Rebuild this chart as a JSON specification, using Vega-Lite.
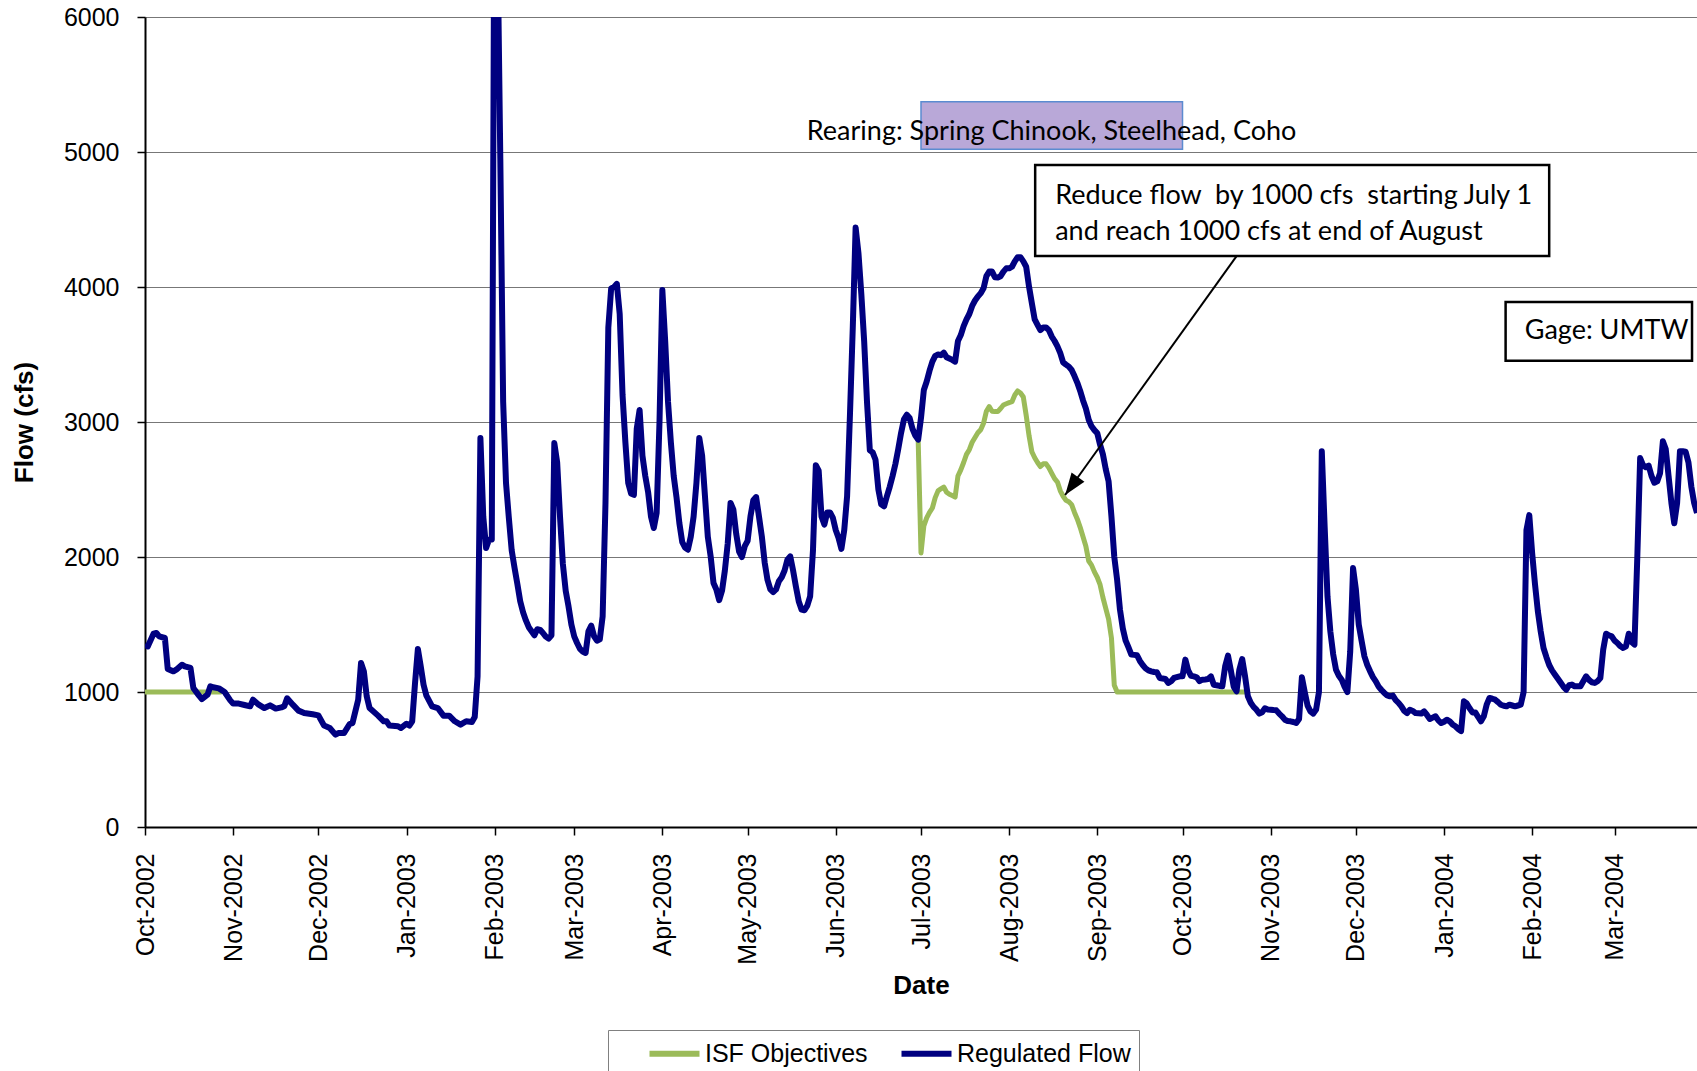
{
  "$schema": "https://vega.github.io/schema/vega-lite/v6.json",
  "width": 1552,
  "height": 810,
  "autosize": {"type": "none"},
  "padding": {"left": 145, "top": 17, "right": 0, "bottom": 244},
  "background": "white",
  "config": {"view": {"stroke": null}, "font": "Liberation Sans"},
  "datasets": {
    "regulated": [
      {"date":"2002-10-01","flow":1351},{"date":"2002-10-02","flow":1338},{"date":"2002-10-04","flow":1432},{"date":"2002-10-05","flow":1437},{"date":"2002-10-06","flow":1412},{"date":"2002-10-08","flow":1400},{"date":"2002-10-09","flow":1170},{"date":"2002-10-11","flow":1153},{"date":"2002-10-12","flow":1165},{"date":"2002-10-14","flow":1202},{"date":"2002-10-15","flow":1190},{"date":"2002-10-17","flow":1178},{"date":"2002-10-18","flow":1030},{"date":"2002-10-20","flow":973},{"date":"2002-10-21","flow":948},{"date":"2002-10-23","flow":980},{"date":"2002-10-24","flow":1042},{"date":"2002-10-25","flow":1035},{"date":"2002-10-27","flow":1027},{"date":"2002-10-29","flow":1000},{"date":"2002-10-31","flow":938},
      {"date":"2002-11-01","flow":914},{"date":"2002-11-03","flow":914},{"date":"2002-11-05","flow":904},{"date":"2002-11-07","flow":894},{"date":"2002-11-08","flow":943},{"date":"2002-11-10","flow":906},{"date":"2002-11-12","flow":881},{"date":"2002-11-14","flow":901},{"date":"2002-11-16","flow":877},{"date":"2002-11-18","flow":886},{"date":"2002-11-19","flow":894},{"date":"2002-11-20","flow":953},{"date":"2002-11-22","flow":906},{"date":"2002-11-24","flow":862},{"date":"2002-11-26","flow":844},{"date":"2002-11-29","flow":835},
      {"date":"2002-12-01","flow":827},{"date":"2002-12-03","flow":751},{"date":"2002-12-05","flow":733},{"date":"2002-12-07","flow":684},{"date":"2002-12-08","flow":696},{"date":"2002-12-10","flow":696},{"date":"2002-12-12","flow":763},{"date":"2002-12-13","flow":770},{"date":"2002-12-15","flow":943},{"date":"2002-12-16","flow":1215},{"date":"2002-12-17","flow":1153},{"date":"2002-12-18","flow":968},{"date":"2002-12-19","flow":881},{"date":"2002-12-22","flow":825},{"date":"2002-12-24","flow":783},{"date":"2002-12-25","flow":783},{"date":"2002-12-26","flow":751},{"date":"2002-12-29","flow":746},{"date":"2002-12-30","flow":733},
      {"date":"2003-01-01","flow":765},{"date":"2003-01-02","flow":751},{"date":"2003-01-03","flow":783},{"date":"2003-01-04","flow":1067},{"date":"2003-01-05","flow":1319},{"date":"2003-01-06","flow":1190},{"date":"2003-01-07","flow":1054},{"date":"2003-01-08","flow":973},{"date":"2003-01-10","flow":894},{"date":"2003-01-12","flow":881},{"date":"2003-01-14","flow":825},{"date":"2003-01-16","flow":825},{"date":"2003-01-18","flow":783},{"date":"2003-01-20","flow":758},{"date":"2003-01-22","flow":783},{"date":"2003-01-24","flow":778},{"date":"2003-01-25","flow":815},{"date":"2003-01-26","flow":1116},{"date":"2003-01-27","flow":2881},{"date":"2003-01-28","flow":2300},{"date":"2003-01-29","flow":2067},{"date":"2003-01-30","flow":2128},{"date":"2003-01-31","flow":2130},
      {"date":"2003-02-01","flow":7500},{"date":"2003-02-02","flow":6600},{"date":"2003-02-03","flow":4950},{"date":"2003-02-04","flow":3150},{"date":"2003-02-05","flow":2550},{"date":"2003-02-06","flow":2290},{"date":"2003-02-07","flow":2050},{"date":"2003-02-08","flow":1920},{"date":"2003-02-09","flow":1800},{"date":"2003-02-10","flow":1672},{"date":"2003-02-11","flow":1590},{"date":"2003-02-12","flow":1530},{"date":"2003-02-13","flow":1480},{"date":"2003-02-14","flow":1450},{"date":"2003-02-15","flow":1420},{"date":"2003-02-16","flow":1465},{"date":"2003-02-17","flow":1460},{"date":"2003-02-18","flow":1437},{"date":"2003-02-19","flow":1410},{"date":"2003-02-20","flow":1395},{"date":"2003-02-21","flow":1420},{"date":"2003-02-22","flow":2844},{"date":"2003-02-23","flow":2700},{"date":"2003-02-24","flow":2300},{"date":"2003-02-25","flow":1950},{"date":"2003-02-26","flow":1750},{"date":"2003-02-27","flow":1634},{"date":"2003-02-28","flow":1500},
      {"date":"2003-03-01","flow":1412},{"date":"2003-03-02","flow":1363},{"date":"2003-03-03","flow":1320},{"date":"2003-03-04","flow":1300},{"date":"2003-03-05","flow":1289},{"date":"2003-03-06","flow":1449},{"date":"2003-03-07","flow":1491},{"date":"2003-03-08","flow":1412},{"date":"2003-03-09","flow":1380},{"date":"2003-03-10","flow":1390},{"date":"2003-03-11","flow":1560},{"date":"2003-03-12","flow":2400},{"date":"2003-03-13","flow":3700},{"date":"2003-03-14","flow":3990},{"date":"2003-03-15","flow":4000},{"date":"2003-03-16","flow":4023},{"date":"2003-03-17","flow":3800},{"date":"2003-03-18","flow":3200},{"date":"2003-03-19","flow":2850},{"date":"2003-03-20","flow":2548},{"date":"2003-03-21","flow":2470},{"date":"2003-03-22","flow":2460},{"date":"2003-03-23","flow":2950},{"date":"2003-03-24","flow":3089},{"date":"2003-03-25","flow":2750},{"date":"2003-03-26","flow":2600},{"date":"2003-03-27","flow":2480},{"date":"2003-03-28","flow":2300},{"date":"2003-03-29","flow":2215},{"date":"2003-03-30","flow":2326},{"date":"2003-03-31","flow":3000},
      {"date":"2003-04-01","flow":3978},{"date":"2003-04-02","flow":3600},{"date":"2003-04-03","flow":3150},{"date":"2003-04-04","flow":2850},{"date":"2003-04-05","flow":2600},{"date":"2003-04-06","flow":2440},{"date":"2003-04-07","flow":2250},{"date":"2003-04-08","flow":2110},{"date":"2003-04-09","flow":2070},{"date":"2003-04-10","flow":2054},{"date":"2003-04-11","flow":2150},{"date":"2003-04-12","flow":2300},{"date":"2003-04-13","flow":2550},{"date":"2003-04-14","flow":2881},{"date":"2003-04-15","flow":2750},{"date":"2003-04-16","flow":2450},{"date":"2003-04-17","flow":2150},{"date":"2003-04-18","flow":2005},{"date":"2003-04-19","flow":1807},{"date":"2003-04-20","flow":1760},{"date":"2003-04-21","flow":1680},{"date":"2003-04-22","flow":1750},{"date":"2003-04-23","flow":1900},{"date":"2003-04-24","flow":2100},{"date":"2003-04-25","flow":2400},{"date":"2003-04-26","flow":2350},{"date":"2003-04-27","flow":2170},{"date":"2003-04-28","flow":2040},{"date":"2003-04-29","flow":2000},{"date":"2003-04-30","flow":2080},
      {"date":"2003-05-01","flow":2120},{"date":"2003-05-02","flow":2300},{"date":"2003-05-03","flow":2420},{"date":"2003-05-04","flow":2444},{"date":"2003-05-05","flow":2300},{"date":"2003-05-06","flow":2153},{"date":"2003-05-07","flow":1960},{"date":"2003-05-08","flow":1830},{"date":"2003-05-09","flow":1760},{"date":"2003-05-10","flow":1740},{"date":"2003-05-11","flow":1760},{"date":"2003-05-12","flow":1820},{"date":"2003-05-13","flow":1850},{"date":"2003-05-14","flow":1900},{"date":"2003-05-15","flow":1980},{"date":"2003-05-16","flow":2005},{"date":"2003-05-17","flow":1900},{"date":"2003-05-18","flow":1780},{"date":"2003-05-19","flow":1670},{"date":"2003-05-20","flow":1610},{"date":"2003-05-21","flow":1605},{"date":"2003-05-22","flow":1640},{"date":"2003-05-23","flow":1709},{"date":"2003-05-24","flow":2050},{"date":"2003-05-25","flow":2680},{"date":"2003-05-26","flow":2640},{"date":"2003-05-27","flow":2300},{"date":"2003-05-28","flow":2240},{"date":"2003-05-29","flow":2330},{"date":"2003-05-30","flow":2330},{"date":"2003-05-31","flow":2290},
      {"date":"2003-06-01","flow":2200},{"date":"2003-06-02","flow":2140},{"date":"2003-06-03","flow":2060},{"date":"2003-06-04","flow":2200},{"date":"2003-06-05","flow":2450},{"date":"2003-06-06","flow":3050},{"date":"2003-06-07","flow":3700},{"date":"2003-06-08","flow":4440},{"date":"2003-06-09","flow":4250},{"date":"2003-06-10","flow":3950},{"date":"2003-06-11","flow":3600},{"date":"2003-06-12","flow":3150},{"date":"2003-06-13","flow":2790},{"date":"2003-06-14","flow":2775},{"date":"2003-06-15","flow":2720},{"date":"2003-06-16","flow":2500},{"date":"2003-06-17","flow":2390},{"date":"2003-06-18","flow":2375},{"date":"2003-06-19","flow":2450},{"date":"2003-06-20","flow":2520},{"date":"2003-06-21","flow":2600},{"date":"2003-06-22","flow":2690},{"date":"2003-06-23","flow":2800},{"date":"2003-06-24","flow":2920},{"date":"2003-06-25","flow":3020},{"date":"2003-06-26","flow":3054},{"date":"2003-06-27","flow":3030},{"date":"2003-06-28","flow":2950},{"date":"2003-06-29","flow":2900},{"date":"2003-06-30","flow":2869},
      {"date":"2003-07-01","flow":3030},{"date":"2003-07-02","flow":3237},{"date":"2003-07-03","flow":3300},{"date":"2003-07-04","flow":3380},{"date":"2003-07-05","flow":3447},{"date":"2003-07-06","flow":3490},{"date":"2003-07-07","flow":3500},{"date":"2003-07-08","flow":3495},{"date":"2003-07-09","flow":3514},{"date":"2003-07-10","flow":3480},{"date":"2003-07-11","flow":3470},{"date":"2003-07-12","flow":3460},{"date":"2003-07-13","flow":3447},{"date":"2003-07-14","flow":3600},{"date":"2003-07-15","flow":3644},{"date":"2003-07-16","flow":3710},{"date":"2003-07-17","flow":3760},{"date":"2003-07-18","flow":3800},{"date":"2003-07-19","flow":3860},{"date":"2003-07-20","flow":3900},{"date":"2003-07-21","flow":3930},{"date":"2003-07-22","flow":3953},{"date":"2003-07-23","flow":3990},{"date":"2003-07-24","flow":4080},{"date":"2003-07-25","flow":4114},{"date":"2003-07-26","flow":4114},{"date":"2003-07-27","flow":4072},{"date":"2003-07-28","flow":4070},{"date":"2003-07-29","flow":4080},{"date":"2003-07-30","flow":4114},{"date":"2003-07-31","flow":4138},
      {"date":"2003-08-01","flow":4138},{"date":"2003-08-02","flow":4150},{"date":"2003-08-03","flow":4190},{"date":"2003-08-04","flow":4220},{"date":"2003-08-05","flow":4220},{"date":"2003-08-06","flow":4190},{"date":"2003-08-07","flow":4150},{"date":"2003-08-08","flow":4003},{"date":"2003-08-09","flow":3880},{"date":"2003-08-10","flow":3760},{"date":"2003-08-11","flow":3720},{"date":"2003-08-12","flow":3680},{"date":"2003-08-13","flow":3700},{"date":"2003-08-14","flow":3700},{"date":"2003-08-15","flow":3680},{"date":"2003-08-16","flow":3633},{"date":"2003-08-17","flow":3600},{"date":"2003-08-18","flow":3560},{"date":"2003-08-19","flow":3510},{"date":"2003-08-20","flow":3442},{"date":"2003-08-21","flow":3425},{"date":"2003-08-22","flow":3410},{"date":"2003-08-23","flow":3385},{"date":"2003-08-24","flow":3340},{"date":"2003-08-25","flow":3290},{"date":"2003-08-26","flow":3230},{"date":"2003-08-27","flow":3160},{"date":"2003-08-28","flow":3100},{"date":"2003-08-29","flow":3017},{"date":"2003-08-30","flow":2968},{"date":"2003-08-31","flow":2940},
      {"date":"2003-09-01","flow":2918},{"date":"2003-09-02","flow":2832},{"date":"2003-09-03","flow":2760},{"date":"2003-09-04","flow":2650},{"date":"2003-09-05","flow":2560},{"date":"2003-09-06","flow":2300},{"date":"2003-09-07","flow":2000},{"date":"2003-09-08","flow":1830},{"date":"2003-09-09","flow":1610},{"date":"2003-09-10","flow":1470},{"date":"2003-09-11","flow":1380},{"date":"2003-09-12","flow":1330},{"date":"2003-09-13","flow":1277},{"date":"2003-09-14","flow":1275},{"date":"2003-09-15","flow":1272},{"date":"2003-09-16","flow":1230},{"date":"2003-09-17","flow":1200},{"date":"2003-09-18","flow":1175},{"date":"2003-09-19","flow":1160},{"date":"2003-09-20","flow":1153},{"date":"2003-09-21","flow":1148},{"date":"2003-09-22","flow":1146},{"date":"2003-09-23","flow":1104},{"date":"2003-09-24","flow":1100},{"date":"2003-09-25","flow":1096},{"date":"2003-09-26","flow":1067},{"date":"2003-09-27","flow":1080},{"date":"2003-09-28","flow":1104},{"date":"2003-09-29","flow":1110},{"date":"2003-09-30","flow":1116},
      {"date":"2003-10-01","flow":1116},{"date":"2003-10-02","flow":1240},{"date":"2003-10-03","flow":1160},{"date":"2003-10-04","flow":1120},{"date":"2003-10-05","flow":1116},{"date":"2003-10-06","flow":1109},{"date":"2003-10-07","flow":1080},{"date":"2003-10-08","flow":1091},{"date":"2003-10-09","flow":1093},{"date":"2003-10-10","flow":1096},{"date":"2003-10-11","flow":1116},{"date":"2003-10-12","flow":1054},{"date":"2003-10-13","flow":1050},{"date":"2003-10-14","flow":1045},{"date":"2003-10-15","flow":1042},{"date":"2003-10-16","flow":1190},{"date":"2003-10-17","flow":1269},{"date":"2003-10-18","flow":1160},{"date":"2003-10-19","flow":1040},{"date":"2003-10-20","flow":1005},{"date":"2003-10-21","flow":1165},{"date":"2003-10-22","flow":1244},{"date":"2003-10-23","flow":1116},{"date":"2003-10-24","flow":968},{"date":"2003-10-25","flow":920},{"date":"2003-10-26","flow":890},{"date":"2003-10-27","flow":869},{"date":"2003-10-28","flow":840},{"date":"2003-10-29","flow":850},{"date":"2003-10-30","flow":879},{"date":"2003-10-31","flow":870},
      {"date":"2003-11-01","flow":869},{"date":"2003-11-02","flow":866},{"date":"2003-11-03","flow":864},{"date":"2003-11-04","flow":840},{"date":"2003-11-05","flow":820},{"date":"2003-11-06","flow":795},{"date":"2003-11-07","flow":785},{"date":"2003-11-08","flow":783},{"date":"2003-11-09","flow":778},{"date":"2003-11-10","flow":770},{"date":"2003-11-11","flow":800},{"date":"2003-11-12","flow":1109},{"date":"2003-11-13","flow":1000},{"date":"2003-11-14","flow":899},{"date":"2003-11-15","flow":857},{"date":"2003-11-16","flow":840},{"date":"2003-11-17","flow":870},{"date":"2003-11-18","flow":1000},{"date":"2003-11-19","flow":2783},{"date":"2003-11-20","flow":2227},{"date":"2003-11-21","flow":1709},{"date":"2003-11-22","flow":1450},{"date":"2003-11-23","flow":1280},{"date":"2003-11-24","flow":1165},{"date":"2003-11-25","flow":1120},{"date":"2003-11-26","flow":1091},{"date":"2003-11-27","flow":1040},{"date":"2003-11-28","flow":1000},{"date":"2003-11-29","flow":1300},{"date":"2003-11-30","flow":1918},
      {"date":"2003-12-01","flow":1758},{"date":"2003-12-02","flow":1500},{"date":"2003-12-03","flow":1380},{"date":"2003-12-04","flow":1264},{"date":"2003-12-05","flow":1200},{"date":"2003-12-06","flow":1153},{"date":"2003-12-07","flow":1110},{"date":"2003-12-08","flow":1079},{"date":"2003-12-09","flow":1040},{"date":"2003-12-10","flow":1015},{"date":"2003-12-11","flow":993},{"date":"2003-12-12","flow":975},{"date":"2003-12-13","flow":968},{"date":"2003-12-14","flow":973},{"date":"2003-12-15","flow":940},{"date":"2003-12-16","flow":920},{"date":"2003-12-17","flow":894},{"date":"2003-12-18","flow":860},{"date":"2003-12-19","flow":844},{"date":"2003-12-20","flow":869},{"date":"2003-12-21","flow":860},{"date":"2003-12-22","flow":844},{"date":"2003-12-23","flow":842},{"date":"2003-12-24","flow":840},{"date":"2003-12-25","flow":857},{"date":"2003-12-26","flow":830},{"date":"2003-12-27","flow":800},{"date":"2003-12-28","flow":810},{"date":"2003-12-29","flow":820},{"date":"2003-12-30","flow":790},{"date":"2003-12-31","flow":770},
      {"date":"2004-01-01","flow":780},{"date":"2004-01-02","flow":795},{"date":"2004-01-03","flow":783},{"date":"2004-01-04","flow":760},{"date":"2004-01-05","flow":746},{"date":"2004-01-06","flow":726},{"date":"2004-01-07","flow":710},{"date":"2004-01-08","flow":931},{"date":"2004-01-09","flow":915},{"date":"2004-01-10","flow":880},{"date":"2004-01-11","flow":849},{"date":"2004-01-12","flow":849},{"date":"2004-01-13","flow":815},{"date":"2004-01-14","flow":783},{"date":"2004-01-15","flow":820},{"date":"2004-01-16","flow":906},{"date":"2004-01-17","flow":956},{"date":"2004-01-18","flow":950},{"date":"2004-01-19","flow":943},{"date":"2004-01-20","flow":925},{"date":"2004-01-21","flow":906},{"date":"2004-01-22","flow":898},{"date":"2004-01-23","flow":894},{"date":"2004-01-24","flow":906},{"date":"2004-01-25","flow":900},{"date":"2004-01-26","flow":894},{"date":"2004-01-27","flow":900},{"date":"2004-01-28","flow":906},{"date":"2004-01-29","flow":1000},{"date":"2004-01-30","flow":2200},{"date":"2004-01-31","flow":2310},
      {"date":"2004-02-01","flow":2030},{"date":"2004-02-02","flow":1800},{"date":"2004-02-03","flow":1600},{"date":"2004-02-04","flow":1450},{"date":"2004-02-05","flow":1326},{"date":"2004-02-06","flow":1260},{"date":"2004-02-07","flow":1200},{"date":"2004-02-08","flow":1160},{"date":"2004-02-09","flow":1130},{"date":"2004-02-10","flow":1100},{"date":"2004-02-11","flow":1070},{"date":"2004-02-12","flow":1040},{"date":"2004-02-13","flow":1017},{"date":"2004-02-14","flow":1050},{"date":"2004-02-15","flow":1055},{"date":"2004-02-16","flow":1042},{"date":"2004-02-17","flow":1042},{"date":"2004-02-18","flow":1042},{"date":"2004-02-19","flow":1079},{"date":"2004-02-20","flow":1116},{"date":"2004-02-21","flow":1090},{"date":"2004-02-22","flow":1072},{"date":"2004-02-23","flow":1067},{"date":"2004-02-24","flow":1080},{"date":"2004-02-25","flow":1104},{"date":"2004-02-26","flow":1314},{"date":"2004-02-27","flow":1432},{"date":"2004-02-28","flow":1420},{"date":"2004-02-29","flow":1412},
      {"date":"2004-03-01","flow":1380},{"date":"2004-03-02","flow":1363},{"date":"2004-03-03","flow":1340},{"date":"2004-03-04","flow":1326},{"date":"2004-03-05","flow":1338},{"date":"2004-03-06","flow":1432},{"date":"2004-03-07","flow":1370},{"date":"2004-03-08","flow":1351},{"date":"2004-03-09","flow":2000},{"date":"2004-03-10","flow":2733},{"date":"2004-03-11","flow":2680},{"date":"2004-03-12","flow":2665},{"date":"2004-03-13","flow":2676},{"date":"2004-03-14","flow":2600},{"date":"2004-03-15","flow":2550},{"date":"2004-03-16","flow":2560},{"date":"2004-03-17","flow":2620},{"date":"2004-03-18","flow":2857},{"date":"2004-03-19","flow":2800},{"date":"2004-03-20","flow":2600},{"date":"2004-03-21","flow":2400},{"date":"2004-03-22","flow":2250},{"date":"2004-03-23","flow":2400},{"date":"2004-03-24","flow":2783},{"date":"2004-03-25","flow":2783},{"date":"2004-03-26","flow":2780},{"date":"2004-03-27","flow":2700},{"date":"2004-03-28","flow":2523},{"date":"2004-03-29","flow":2400},{"date":"2004-03-30","flow":2326}
    ],
    "isf": [
      {"period":"2002","date":"2002-10-01","flow":1000},{"period":"2002","date":"2002-10-28","flow":1000},
      {"period":"2003","date":"2003-06-30","flow":2869},{"period":"2003","date":"2003-07-01","flow":2030},{"period":"2003","date":"2003-07-02","flow":2230},{"period":"2003","date":"2003-07-03","flow":2290},{"period":"2003","date":"2003-07-04","flow":2330},{"period":"2003","date":"2003-07-05","flow":2363},{"period":"2003","date":"2003-07-06","flow":2440},{"period":"2003","date":"2003-07-07","flow":2490},{"period":"2003","date":"2003-07-08","flow":2505},{"period":"2003","date":"2003-07-09","flow":2518},{"period":"2003","date":"2003-07-10","flow":2480},{"period":"2003","date":"2003-07-11","flow":2465},{"period":"2003","date":"2003-07-12","flow":2455},{"period":"2003","date":"2003-07-13","flow":2444},{"period":"2003","date":"2003-07-14","flow":2600},{"period":"2003","date":"2003-07-15","flow":2645},{"period":"2003","date":"2003-07-16","flow":2700},{"period":"2003","date":"2003-07-17","flow":2760},{"period":"2003","date":"2003-07-18","flow":2795},{"period":"2003","date":"2003-07-19","flow":2850},{"period":"2003","date":"2003-07-20","flow":2885},{"period":"2003","date":"2003-07-21","flow":2920},{"period":"2003","date":"2003-07-22","flow":2943},{"period":"2003","date":"2003-07-23","flow":2990},{"period":"2003","date":"2003-07-24","flow":3080},{"period":"2003","date":"2003-07-25","flow":3114},{"period":"2003","date":"2003-07-26","flow":3080},{"period":"2003","date":"2003-07-27","flow":3077},{"period":"2003","date":"2003-07-28","flow":3077},{"period":"2003","date":"2003-07-29","flow":3100},{"period":"2003","date":"2003-07-30","flow":3126},{"period":"2003","date":"2003-07-31","flow":3135},
      {"period":"2003","date":"2003-08-01","flow":3143},{"period":"2003","date":"2003-08-02","flow":3150},{"period":"2003","date":"2003-08-03","flow":3200},{"period":"2003","date":"2003-08-04","flow":3230},{"period":"2003","date":"2003-08-05","flow":3215},{"period":"2003","date":"2003-08-06","flow":3185},{"period":"2003","date":"2003-08-07","flow":3050},{"period":"2003","date":"2003-08-08","flow":2900},{"period":"2003","date":"2003-08-09","flow":2780},{"period":"2003","date":"2003-08-10","flow":2735},{"period":"2003","date":"2003-08-11","flow":2700},{"period":"2003","date":"2003-08-12","flow":2670},{"period":"2003","date":"2003-08-13","flow":2690},{"period":"2003","date":"2003-08-14","flow":2690},{"period":"2003","date":"2003-08-15","flow":2660},{"period":"2003","date":"2003-08-16","flow":2620},{"period":"2003","date":"2003-08-17","flow":2580},{"period":"2003","date":"2003-08-18","flow":2555},{"period":"2003","date":"2003-08-19","flow":2490},{"period":"2003","date":"2003-08-20","flow":2450},{"period":"2003","date":"2003-08-21","flow":2420},{"period":"2003","date":"2003-08-22","flow":2410},{"period":"2003","date":"2003-08-23","flow":2388},{"period":"2003","date":"2003-08-24","flow":2330},{"period":"2003","date":"2003-08-25","flow":2280},{"period":"2003","date":"2003-08-26","flow":2220},{"period":"2003","date":"2003-08-27","flow":2150},{"period":"2003","date":"2003-08-28","flow":2080},{"period":"2003","date":"2003-08-29","flow":1970},{"period":"2003","date":"2003-08-30","flow":1940},{"period":"2003","date":"2003-08-31","flow":1890},
      {"period":"2003","date":"2003-09-01","flow":1850},{"period":"2003","date":"2003-09-02","flow":1795},{"period":"2003","date":"2003-09-03","flow":1700},{"period":"2003","date":"2003-09-04","flow":1620},{"period":"2003","date":"2003-09-05","flow":1540},{"period":"2003","date":"2003-09-06","flow":1400},{"period":"2003","date":"2003-09-07","flow":1050},{"period":"2003","date":"2003-09-08","flow":1000},{"period":"2003","date":"2003-10-23","flow":1000}
    ],
    "rearing": [{"x1":"2003-07-01","x2":"2003-10-01","y1":5020,"y2":5372}],
    "boxes": [
      {"x1":"2003-08-10T04:00:00Z","x2":"2004-02-07T00:00:00Z","y1":4230,"y2":4904},
      {"x1":"2004-01-22T16:00:00Z","x2":"2004-03-28T06:00:00Z","y1":3454,"y2":3889}
    ],
    "arrow": [{"x1":"2003-10-20T02:00:00Z","y1":4230,"x2":"2003-08-20T17:00:00Z","y2":2459}],
    "notes": [
      {"date":"2003-05-21T20:00:00Z","flow":5150,"label":"Rearing: Spring Chinook, Steelhead, Coho"},
      {"date":"2003-08-17T05:00:00Z","flow":4676,"label":"Reduce flow \u00a0by 1000 cfs \u00a0starting July 1"},
      {"date":"2003-08-17T05:00:00Z","flow":4407,"label":"and reach 1000 cfs at end of August"},
      {"date":"2004-01-29T10:00:00Z","flow":3672,"label":"Gage: UMTW"}
    ]
  },
  "layer": [
    {
      "data": {"name": "isf"},
      "mark": {"type": "line", "strokeWidth": 5, "clip": true, "strokeJoin": "round"},
      "encoding": {
        "x": {
          "field": "date", "type": "temporal", "title": "Date",
          "scale": {"type": "utc", "domain": [{"year": 2002, "month": 10, "date": 1, "utc": true}, {"year": 2004, "month": 3, "date": 30, "utc": true}]},
          "axis": {
            "title": "Date",
            "values": [
              {"year": 2002, "month": 10, "date": 1, "utc": true},
              {"year": 2002, "month": 11, "date": 1, "utc": true},
              {"year": 2002, "month": 12, "date": 1, "utc": true},
              {"year": 2003, "month": 1, "date": 1, "utc": true},
              {"year": 2003, "month": 2, "date": 1, "utc": true},
              {"year": 2003, "month": 3, "date": 1, "utc": true},
              {"year": 2003, "month": 4, "date": 1, "utc": true},
              {"year": 2003, "month": 5, "date": 1, "utc": true},
              {"year": 2003, "month": 6, "date": 1, "utc": true},
              {"year": 2003, "month": 7, "date": 1, "utc": true},
              {"year": 2003, "month": 8, "date": 1, "utc": true},
              {"year": 2003, "month": 9, "date": 1, "utc": true},
              {"year": 2003, "month": 10, "date": 1, "utc": true},
              {"year": 2003, "month": 11, "date": 1, "utc": true},
              {"year": 2003, "month": 12, "date": 1, "utc": true},
              {"year": 2004, "month": 1, "date": 1, "utc": true},
              {"year": 2004, "month": 2, "date": 1, "utc": true},
              {"year": 2004, "month": 3, "date": 1, "utc": true}
            ],
            "format": "%b-%Y",
            "labelAngle": -90,
            "labelFont": "Liberation Sans", "labelFontSize": 25, "labelColor": "#000",
            "labelPadding": 18, "labelOverlap": false, "labelFlush": false, "labelBound": false,
            "tickSize": 8, "tickColor": "#000", "tickWidth": 1.5,
            "domainColor": "#000", "domainWidth": 2,
            "grid": false,
            "titleFont": "Liberation Sans", "titleFontSize": 26, "titleFontWeight": "bold", "titleColor": "#000", "titlePadding": 8
          }
        },
        "y": {
          "field": "flow", "type": "quantitative", "title": "Flow (cfs)",
          "scale": {"domain": [0, 6000], "nice": false},
          "axis": {
            "title": "Flow (cfs)",
            "values": [0, 1000, 2000, 3000, 4000, 5000, 6000],
            "format": "d",
            "labelFont": "Liberation Sans", "labelFontSize": 25, "labelColor": "#000",
            "labelPadding": 18, "labelFlush": false,
            "tickSize": 8, "tickColor": "#000", "tickWidth": 1.5,
            "domainColor": "#000", "domainWidth": 2,
            "grid": true, "gridColor": "#777777", "gridWidth": 1.2,
            "titleFont": "Liberation Sans", "titleFontSize": 26, "titleFontWeight": "bold", "titleColor": "#000", "titlePadding": 26
          }
        },
        "detail": {"field": "period"},
        "color": {
          "datum": "ISF Objectives",
          "scale": {"domain": ["ISF Objectives", "Regulated Flow"], "range": ["#9BBB59", "#000080"]},
          "legend": {
            "orient": "none", "legendX": 463, "legendY": 1013,
            "direction": "horizontal", "title": null,
            "symbolType": "M-2,0L2,0", "symbolStrokeWidth": 6, "symbolSize": 625,
            "labelFont": "Liberation Sans", "labelFontSize": 25, "labelColor": "#000", "labelLimit": 400,
            "labelOffset": 15, "columnPadding": 0, "symbolOffset": 43,
            "strokeColor": "#808080", "fillColor": "white", "padding": 8
          }
        }
      }
    },
    {
      "data": {"name": "regulated"},
      "mark": {"type": "line", "strokeWidth": 6, "clip": true, "strokeJoin": "round"},
      "encoding": {
        "x": {"field": "date", "type": "temporal", "title": "Date"},
        "y": {"field": "flow", "type": "quantitative", "title": "Flow (cfs)"},
        "color": {"datum": "Regulated Flow"}
      }
    },
    {
      "data": {"name": "rearing"},
      "mark": {"type": "rect", "fill": "#b9a8d8", "stroke": "#5b8bd0", "strokeWidth": 1.5},
      "encoding": {
        "x": {"field": "x1", "type": "temporal", "title": "Date"},
        "x2": {"field": "x2"},
        "y": {"field": "y1", "type": "quantitative", "title": "Flow (cfs)"},
        "y2": {"field": "y2"}
      }
    },
    {
      "data": {"name": "boxes"},
      "mark": {"type": "rect", "fill": "white", "stroke": "#000", "strokeWidth": 2.5},
      "encoding": {
        "x": {"field": "x1", "type": "temporal", "title": "Date"},
        "x2": {"field": "x2"},
        "y": {"field": "y1", "type": "quantitative", "title": "Flow (cfs)"},
        "y2": {"field": "y2"}
      }
    },
    {
      "data": {"name": "arrow"},
      "mark": {"type": "rule", "color": "#000", "strokeWidth": 2},
      "encoding": {
        "x": {"field": "x1", "type": "temporal", "title": "Date"},
        "x2": {"field": "x2"},
        "y": {"field": "y1", "type": "quantitative", "title": "Flow (cfs)"},
        "y2": {"field": "y2"}
      }
    },
    {
      "data": {"name": "arrow"},
      "mark": {"type": "point", "shape": "M0,0L-0.36,1L0.36,1Z", "size": 1936, "angle": 215.8, "filled": true, "color": "#000", "opacity": 1, "strokeWidth": 0},
      "encoding": {
        "x": {"field": "x2", "type": "temporal", "title": "Date"},
        "y": {"field": "y2", "type": "quantitative", "title": "Flow (cfs)"}
      }
    },
    {
      "data": {"name": "notes"},
      "mark": {"type": "text", "align": "left", "baseline": "middle", "font": "Lato", "fontSize": 27, "color": "#000"},
      "encoding": {
        "x": {"field": "date", "type": "temporal", "title": "Date"},
        "y": {"field": "flow", "type": "quantitative", "title": "Flow (cfs)"},
        "text": {"field": "label"}
      }
    }
  ]
}
